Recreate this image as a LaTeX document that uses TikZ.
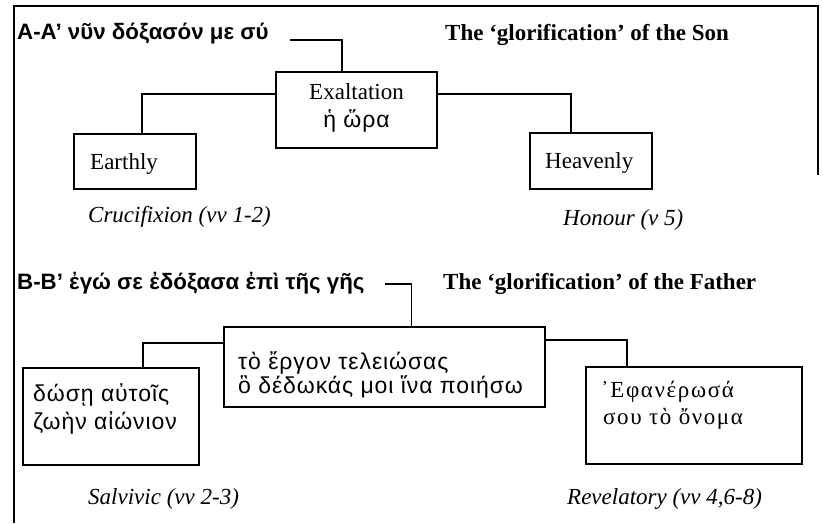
\documentclass[tikz,border=0pt]{standalone}
\usepackage{fontspec}
\setmainfont{Liberation Serif}
\setsansfont{Liberation Sans}
\newfontfamily\grsans[LetterSpace=4]{Liberation Sans}
\newfontfamily\grserif[LetterSpace=7]{Liberation Serif}
\begin{document}
\begin{tikzpicture}[x=1pt,y=-1pt,
  frame/.style={line width=1.8pt},
  boxn/.style={draw, line width=1.4pt, inner sep=0pt},
  conn/.style={line width=1.2pt},
  txt/.style={inner sep=0pt, font=\fontsize{23}{27}\selectfont},
  head/.style={inner sep=0pt, font=\fontsize{22.3}{26}\selectfont\sffamily\bfseries},
  headr/.style={inner sep=0pt, font=\fontsize{23}{27}\selectfont\bfseries},
  captxt/.style={inner sep=0pt, font=\fontsize{23}{27}\selectfont\itshape},
  grs/.style={inner sep=0pt, font=\fontsize{23}{27}\selectfont\grsans},
  grr/.style={inner sep=0pt, font=\fontsize{23}{27}\selectfont\grserif},
]
\useasboundingbox (0,0) rectangle (823,523);
% outer frame
\coordinate (f1) at (14,523);
\coordinate (f2) at (14,6);
\coordinate (f3) at (818,6);
\coordinate (f4) at (818,175);
\draw[frame] (f1) -- (f2) -- (f3) -- (f4);

% ---- Section A
\node[head, anchor=base west] (ha) at (17,39) {A-A' νῦν δόξασόν με σύ};
\node[headr, anchor=base west] (hson) at (445,40) {The `glorification' of the Son};
\node[boxn, minimum width=161pt, minimum height=76pt] (exalt) at (356.5,110) {};
\node[txt, anchor=base] (exl1) at (356.5,99) {Exaltation};
\node[grs, anchor=base] (exl2) at (356.5,127) {ἡ ὥρα};
\node[boxn, minimum width=122pt, minimum height=55pt] (earth) at (135,161.5) {};
\node[txt, anchor=base west] (eartht) at (90,169) {Earthly};
\node[boxn, minimum width=122pt, minimum height=56pt] (heav) at (591,161) {};
\node[txt, anchor=base west] (heavt) at (545,168) {Heavenly};
\node[captxt, anchor=base west] (cruc) at (88,222) {Crucifixion (vv 1-2)};
\node[captxt, anchor=base west] (hon) at (563,225) {Honour (v 5)};

\coordinate (a0) at (290,40);
\draw[conn] (a0) -| ([xshift=-14.5pt]exalt.north);
\draw[conn] ([yshift=16pt]exalt.west) -| ([xshift=7pt]earth.north);
\draw[conn] ([yshift=16pt]exalt.east) -| ([xshift=-20pt]heav.north);

% ---- Section B
\node[head, anchor=base west] (hb) at (17,289) {B-B' ἐγώ σε ἐδόξασα ἐπὶ τῆς γῆς};
\node[headr, anchor=base west] (hfat) at (443,289) {The `glorification' of the Father};
\node[boxn, minimum width=321pt, minimum height=80pt] (mid) at (384.5,367) {};
\node[grs, anchor=base west] (m1) at (238,369) {τὸ ἔργον τελειώσας};
\node[grs, anchor=base west] (m2) at (238,393) {ὃ δέδωκάς μοι ἵνα ποιήσω};
\node[boxn, minimum width=176pt, minimum height=97pt] (lb) at (111,416.5) {};
\node[grs, anchor=base west] (l1) at (33,401) {δώσῃ αὐτοῖς};
\node[grs, anchor=base west] (l2) at (33,429) {ζωὴν αἰώνιον};
\node[boxn, minimum width=216pt, minimum height=97pt] (rb) at (694,415.5) {};
\node[grr, anchor=base west] (r1) at (601,397) {᾿Εφανέρωσά};
\node[grr, anchor=base west] (r2) at (603,424) {σου τὸ ὄνομα};
\node[captxt, anchor=base west] (salv) at (88,504) {Salvivic (vv 2-3)};
\node[captxt, anchor=base west] (rev) at (567,504) {Revelatory (vv 4,6-8)};

\coordinate (b0) at (385,284);
\draw[conn] (b0) -| ([xshift=27pt]mid.north);
\draw[conn] ([yshift=24pt]mid.west) -| ([xshift=32pt]lb.north);
\draw[conn] ([yshift=27pt]mid.east) -| ([xshift=-67pt]rb.north);
\end{tikzpicture}
\end{document}
